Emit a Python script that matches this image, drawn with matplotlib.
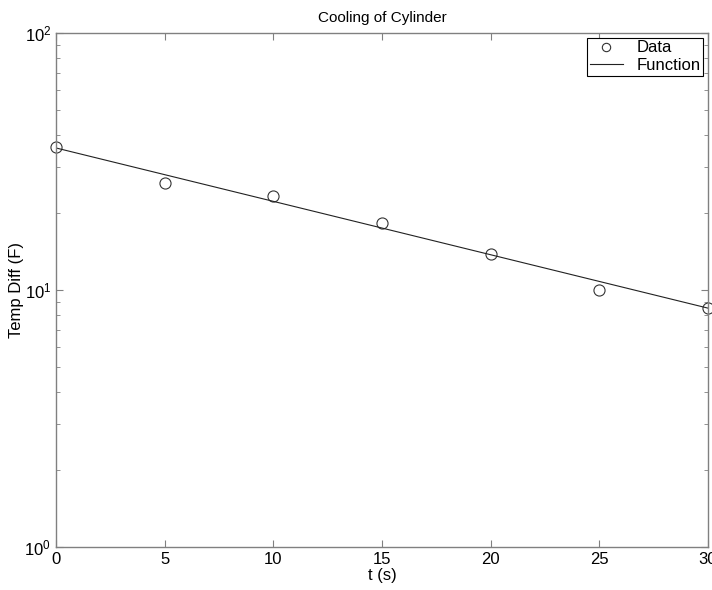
import matplotlib
matplotlib.use("Agg")
import matplotlib.pyplot as plt
from matplotlib.ticker import LogLocator, FixedLocator

plt.rcParams['font.family'] = ['Liberation Sans', 'DejaVu Sans']

# Data
t_data = [0, 5, 10, 15, 20, 25, 30]
temp_diff = [36.0, 26.1, 23.2, 18.2, 13.8, 10.0, 8.5]

# Fitted function (endpoints of the straight line on semilog axes)
t_func = [0, 30]
temp_func = [35.7, 8.5]

x_ticks = [0, 5, 10, 15, 20, 25, 30]

fig = plt.figure(figsize=(7.12, 5.9), dpi=100)
ax = fig.add_axes([56/712, 1-547/590, (708-56)/712, (547-33)/590])

ax.semilogy(t_data, temp_diff, linestyle='none', marker='o', markersize=8,
            markerfacecolor='none', markeredgecolor='#333333', markeredgewidth=0.8,
            label='Data', clip_on=False)
ax.semilogy(t_func, temp_func, color='#222222', linewidth=0.8, label='Function')

ax.set_xlim(0, 30)
ax.set_ylim(1, 100)
ax.xaxis.set_major_locator(FixedLocator(x_ticks))
ax.yaxis.set_major_locator(LogLocator(base=10, numticks=5))
ax.yaxis.set_minor_locator(LogLocator(base=10, subs=range(2, 10), numticks=20))

for s in ax.spines.values():
    s.set_color('#808080')
    s.set_linewidth(1.0)
ax.tick_params(which='both', direction='in', top=True, right=True,
               colors='#808080', labelcolor='black', labelsize=12)
ax.tick_params(which='major', length=5)
ax.tick_params(which='minor', length=3)

ax.set_title('Cooling of Cylinder', fontsize=11, pad=8)
ax.set_xlabel('t (s)', fontsize=12, labelpad=1)
ax.set_ylabel('Temp Diff (F)', fontsize=12, labelpad=0)

leg = ax.legend(loc='upper right', fontsize=12, fancybox=False, framealpha=1,
                edgecolor='black', borderaxespad=0.3, handlelength=2.0,
                borderpad=0.15, labelspacing=0.15, handletextpad=0.8,
                markerscale=0.75)
leg.get_frame().set_linewidth(0.8)

fig.savefig('out.png', dpi=100)
